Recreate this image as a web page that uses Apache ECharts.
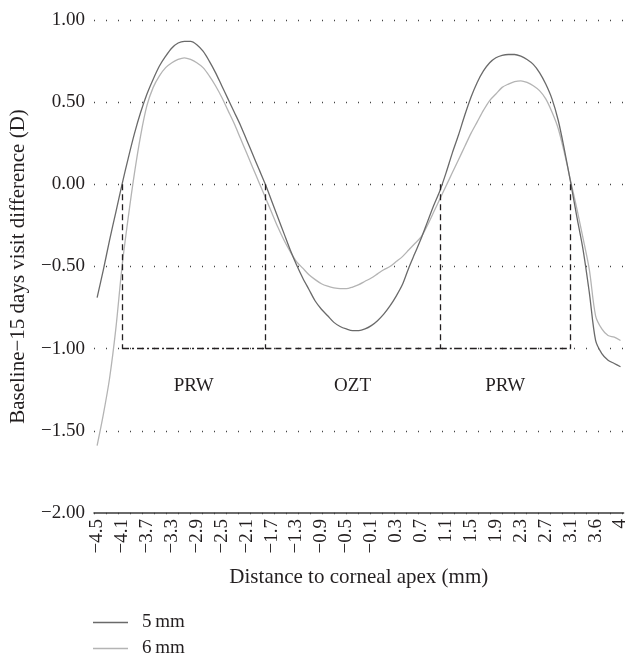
<!DOCTYPE html>
<html>
<head>
<meta charset="utf-8">
<script src="https://cdn.jsdelivr.net/npm/echarts@6/dist/echarts.min.js"></script>
<style>
  html, body { margin: 0; padding: 0; background: #fff; }
  #chart { width: 630px; height: 658px; }
</style>
</head>
<body>
<div id="chart"></div>
<script>
// distance to corneal apex (mm), one category per sample
const distances = [
  '-4.5', '-4.4', '-4.3', '-4.2', '-4.1', '-4', '-3.9', '-3.8', '-3.7', '-3.6',
  '-3.5', '-3.4', '-3.3', '-3.2', '-3.1', '-3', '-2.9', '-2.8', '-2.7', '-2.6',
  '-2.5', '-2.4', '-2.3', '-2.2', '-2.1', '-2', '-1.9', '-1.8', '-1.7', '-1.6',
  '-1.5', '-1.4', '-1.3', '-1.2', '-1.1', '-1', '-0.9', '-0.8', '-0.7', '-0.6',
  '-0.5', '-0.4', '-0.3', '-0.2', '-0.1', '0', '0.1', '0.2', '0.3', '0.4',
  '0.5', '0.6', '0.7', '0.8', '0.9', '1', '1.1', '1.2', '1.3', '1.4',
  '1.5', '1.6', '1.7', '1.8', '1.9', '2', '2.1', '2.2', '2.3', '2.4',
  '2.5', '2.6', '2.7', '2.8', '2.9', '3', '3.1', '3.2', '3.3', '3.4',
  '3.6', '3.7', '3.8', '3.9', '4'
]

// baseline - 15 days difference (D)
const diff5mm = [
  -0.69, -0.52, -0.34, -0.17, 0.00, 0.16, 0.31, 0.44, 0.55, 0.64,
  0.72, 0.78, 0.83, 0.86, 0.87, 0.87, 0.85, 0.81, 0.75, 0.68,
  0.60, 0.52, 0.44, 0.36, 0.27, 0.18, 0.09, 0.00, -0.10, -0.20,
  -0.30, -0.40, -0.49, -0.57, -0.64, -0.71, -0.76, -0.80, -0.84, -0.865,
  -0.88, -0.89, -0.89, -0.88, -0.86, -0.83, -0.79, -0.74, -0.68, -0.61,
  -0.51, -0.42, -0.33, -0.23, -0.13, -0.04, 0.07, 0.19, 0.30, 0.42,
  0.53, 0.62, 0.69, 0.74, 0.77, 0.785, 0.79, 0.79, 0.78, 0.76,
  0.73, 0.68, 0.61, 0.52, 0.39, 0.21, 0.01, -0.20, -0.40, -0.66,
  -0.95, -1.03, -1.07, -1.09, -1.11
]

const diff6mm = [
  -1.59, -1.40, -1.18, -0.88, -0.50, -0.20, 0.07, 0.30, 0.48, 0.59,
  0.66, 0.71, 0.74, 0.76, 0.77, 0.76, 0.74, 0.71, 0.66, 0.60,
  0.53, 0.45, 0.37, 0.28, 0.19, 0.10, 0.01, -0.08, -0.17, -0.26,
  -0.34, -0.41, -0.47, -0.51, -0.55, -0.58, -0.605, -0.62, -0.63, -0.635,
  -0.635, -0.625, -0.61, -0.59, -0.57, -0.545, -0.52, -0.50, -0.47, -0.44,
  -0.40, -0.36, -0.32, -0.25, -0.17, -0.09, -0.01, 0.07, 0.15, 0.23,
  0.31, 0.38, 0.45, 0.51, 0.55, 0.59, 0.61, 0.625, 0.63, 0.62,
  0.60, 0.57, 0.52, 0.44, 0.34, 0.19, 0.02, -0.15, -0.33, -0.52,
  -0.80, -0.88, -0.92, -0.93, -0.95
]

// zone borders and their names
const zoneEdges = ['-4.1', '-1.8', '1', '3.1']
const zoneNames = ['PRW', 'OZT', 'PRW']

const seriesNames = ['5\u2009mm', '6\u2009mm']

const FONT = 'Liberation Serif'
const INK = '#231f20'

function minus(s) {
  return String(s).replace('-', '\u2212')
}

const chart = echarts.init(document.getElementById('chart'))

// vertical dashed borders from 0 down to -1
const borderLines = zoneEdges.map(x => [
  { coord: [x, 0] },
  { coord: [x, -1] }
])

// base line at -1 (dash-dot on the PRW zones, dashed on OZT)
const baseLines = []
for (let i = 0; i < zoneEdges.length - 1; i++) {
  baseLines.push([
    { coord: [zoneEdges[i], -1], lineStyle: { type: i === 1 ? [6, 4] : [7, 3, 2, 3] } },
    { coord: [zoneEdges[i + 1], -1] }
  ])
}

const zoneAreas = zoneNames.map((name, i) => [
  { name: name, coord: [zoneEdges[i], -1] },
  { coord: [zoneEdges[i + 1], -1.46] }
])

// one legend per row, stacked
const legends = seriesNames.map((name, i) => ({
  left: 93,
  top: 613 + i * 26,
  padding: 0,
  icon: 'rect',
  itemWidth: 35,
  itemHeight: 1.4,
  data: [name],
  textStyle: {
    fontFamily: FONT,
    fontSize: 19,
    lineHeight: 18,
    color: INK,
    padding: [0, 0, 0, 9]
  }
}))

const option = {
  animation: false,
  textStyle: { fontFamily: FONT },
  grid: {
    left: 93,
    right: 5,
    top: 20,
    bottom: 145
  },
  legend: legends,
  xAxis: {
    type: 'category',
    data: distances,
    boundaryGap: true,
    name: 'Distance to corneal apex (mm)',
    nameLocation: 'middle',
    nameGap: 54,
    nameTextStyle: { fontFamily: FONT, fontSize: 21, color: INK },
    axisLine: { onZero: false, lineStyle: { color: '#3a3a3a', width: 1.5 } },
    axisTick: { show: false },
    axisLabel: {
      interval: 3,
      rotate: 90,
      margin: 6,
      fontFamily: FONT,
      fontSize: 19,
      color: INK,
      formatter: v => minus(v)
    },
    splitLine: { show: false }
  },
  yAxis: {
    type: 'value',
    min: -2,
    max: 1,
    interval: 0.5,
    name: 'Baseline\u221215 days visit difference (D)',
    nameLocation: 'middle',
    nameGap: 65,
    nameTextStyle: { fontFamily: FONT, fontSize: 21, color: INK },
    axisLine: { show: false },
    axisTick: { show: false },
    axisLabel: {
      margin: 9,
      fontFamily: FONT,
      fontSize: 19,
      color: INK,
      formatter: v => minus(v.toFixed(2))
    },
    splitLine: {
      show: true,
      lineStyle: { color: '#444', width: 1.3, type: [1, 11] }
    }
  },
  series: [
    {
      name: seriesNames[0],
      type: 'line',
      data: diff5mm,
      symbol: 'none',
      smooth: 0.3,
      lineStyle: { color: '#6a6a6a', width: 1.3 },
      itemStyle: { color: '#6a6a6a' },
      z: 3,
      markLine: {
        silent: true,
        symbol: ['none', 'none'],
        label: { show: false },
        lineStyle: { color: INK, width: 1.3, type: [6, 4] },
        data: borderLines.concat(baseLines)
      },
      markArea: {
        silent: true,
        itemStyle: { color: 'rgba(0,0,0,0)' },
        label: {
          show: true,
          position: 'inside',
          fontFamily: FONT,
          fontSize: 19,
          color: INK
        },
        data: zoneAreas
      }
    },
    {
      name: seriesNames[1],
      type: 'line',
      data: diff6mm,
      symbol: 'none',
      smooth: 0.3,
      lineStyle: { color: '#b4b4b4', width: 1.3 },
      itemStyle: { color: '#b4b4b4' },
      z: 2
    }
  ]
}

chart.setOption(option)
</script>
</body>
</html>
